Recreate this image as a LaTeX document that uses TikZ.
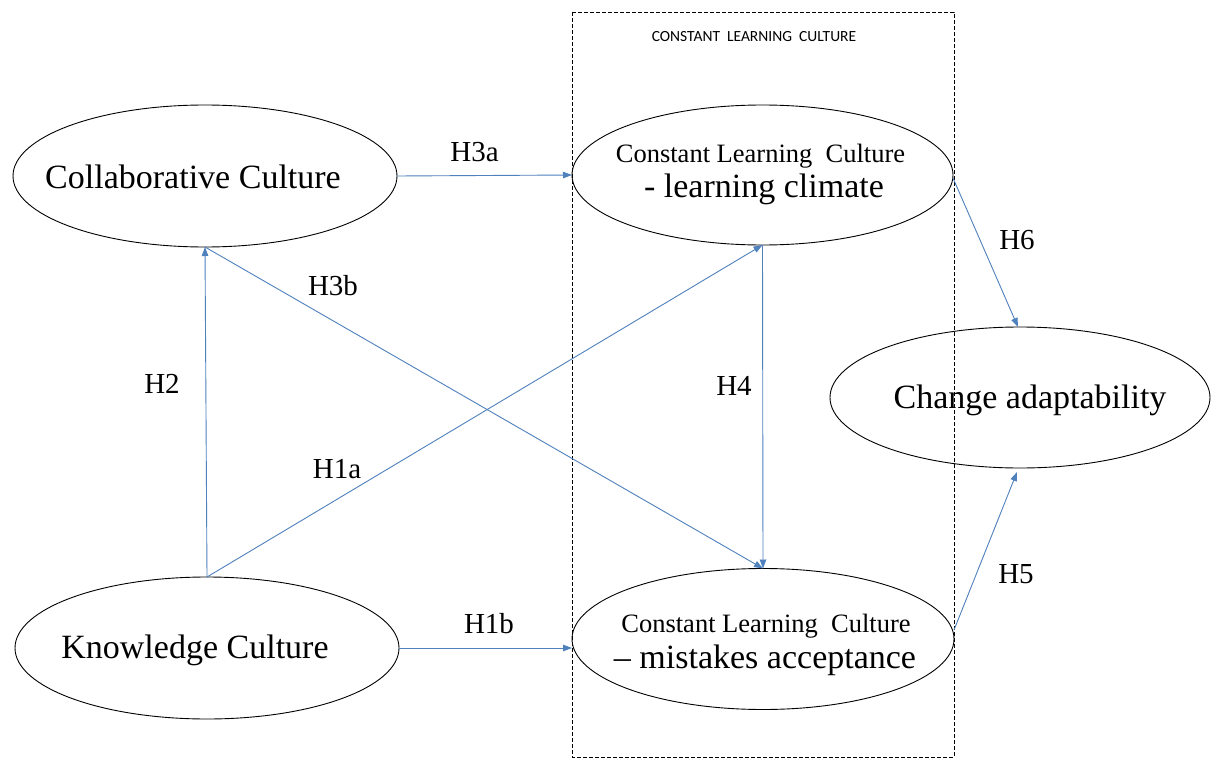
\documentclass[tikz,border=0pt]{standalone}
\usepackage{fontspec}
\setmainfont{Liberation Serif}
\newfontfamily\titlefont{Carlito}
\usetikzlibrary{shapes.geometric,arrows.meta,calc}
\definecolor{arrowblue}{RGB}{79,129,189}
\begin{document}
\begin{tikzpicture}[x=1pt,y=-1pt,
  ell/.style={ellipse,draw=black,line width=0.9pt,inner sep=0pt,outer sep=0pt,
              minimum width=#1*2pt},
  ell/.default=191,
  txtbig/.style={anchor=base,inner sep=0pt,font=\fontsize{34}{40}\selectfont},
  txtsmall/.style={anchor=base,inner sep=0pt,font=\fontsize{26.5}{31}\selectfont},
  lab/.style={anchor=base,inner sep=0pt,font=\fontsize{29}{34}\selectfont},
  conn/.style={draw=arrowblue,line width=0.9pt,-{Triangle[length=9pt,width=6.5pt]}},
  groupbox/.style={draw=black,line width=0.9pt,dash pattern=on 4pt off 2pt}]
\useasboundingbox (0,0) rectangle (1211,760);
\fill[white] (0,0) rectangle (1211,760);

% dashed group box
\draw[groupbox] (572,12) rectangle (954,757);
\node[anchor=base,inner sep=0pt,font=\titlefont\fontsize{15.5}{18}\selectfont] (title) at (754,42)
  {CONSTANT\ \ LEARNING\ \ CULTURE};

% ellipses
\node[ell=192,minimum height=142pt] (col) at (205,176) {};
\node[ell=192,minimum height=142pt] (kno) at (207,648) {};
\node[ell=190.5,minimum height=140pt] (clim) at (762.5,175) {};
\node[ell=191,minimum height=141pt] (mis) at (763,639) {};
\node[ell=190,minimum height=141pt] (chg) at (1020,397.5) {};

% texts
\node[txtbig] (colT) at (193,188) {Collaborative Culture};
\node[txtbig] (knoT) at (195,658) {Knowledge Culture};
\node[txtbig] (chgT) at (1030,408) {Change adaptability};
\node[txtsmall] (climA) at (760.5,162) {Constant Learning\ \ Culture};
\node[txtbig] (climB) at (764,197) {- learning climate};
\node[txtsmall] (misA) at (766,632) {Constant Learning\ \ Culture};
\node[txtbig] (misB) at (765,668) {– mistakes acceptance};

% connectors
\draw[conn] (col.east) -- (clim.west);
\draw[conn] (kno.east) -- (kno.east -| mis.west);
\draw[conn] (kno.north) -- (col.south);
\draw[conn] (kno.north) -- (clim.south);
\draw[conn] (col.south) -- (mis.north);
\draw[conn] (clim.south) -- (mis.north);
\draw[conn] ($(clim.east)+(0,3)$) -- ($(chg.north)+(-2,0)$);
\draw[conn] ($(mis.east)+(0,-9)$) -- ($(chg.south)+(-3,4)$);

% labels
\node[lab] (h3a) at (474.5,161) {H3a};
\node[lab] (h3b) at (333,295) {H3b};
\node[lab] (h2) at (162,393) {H2};
\node[lab] (h1a) at (337,478) {H1a};
\node[lab] (h1b) at (489,633) {H1b};
\node[lab] (h4) at (734,395) {H4};
\node[lab] (h6) at (1017,249) {H6};
\node[lab] (h5) at (1016,583) {H5};
\end{tikzpicture}
\end{document}
